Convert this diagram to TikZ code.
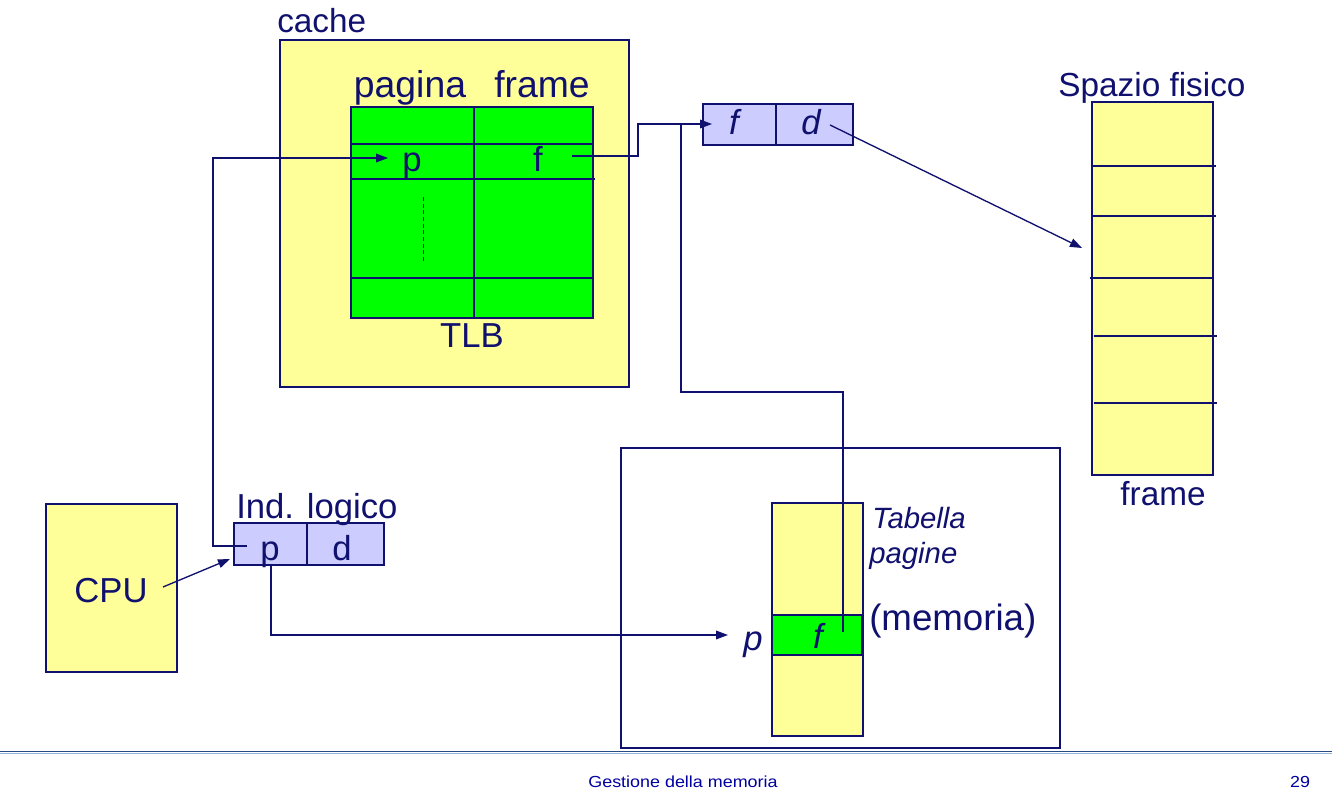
\documentclass[tikz,border=0pt]{standalone}
\usepackage{fontspec}
\setmainfont{Liberation Sans}
\usetikzlibrary{arrows.meta}
\definecolor{navy}{RGB}{16,16,110}
\definecolor{ylw}{RGB}{255,255,153}
\definecolor{lav}{RGB}{204,204,255}
\definecolor{grn}{RGB}{0,255,0}
\definecolor{rule}{RGB}{40,75,130}
\definecolor{rulelt}{RGB}{150,180,215}
\definecolor{footc}{RGB}{0,0,160}
\begin{document}
\begin{tikzpicture}[x=0.75pt,y=-0.75pt]
\tikzset{
  box/.style={draw=navy, line width=1pt, inner sep=0pt, outer sep=0pt},
  ln/.style={draw=navy, line width=1pt},
  arr/.style={ln, -{Triangle[length=9pt,width=6.5pt]}},
  lbl/.style={text=navy, inner sep=0pt, anchor=base, font=\fontsize{26}{28}\selectfont},
  ilbl/.style={lbl, font=\fontsize{26}{28}\selectfont\itshape},
}
\useasboundingbox (0,0) rectangle (1332,791);
% cache
\node[box, fill=ylw, minimum width=349*0.75pt, minimum height=347*0.75pt] (cache) at (454.5,213.5) {};
\node[lbl, font=\fontsize{25}{27}\selectfont, anchor=base west] (cachel) at (277,33) {cache};
% TLB
\node[box, fill=grn, minimum width=242*0.75pt, minimum height=211*0.75pt] (tlb) at (472,212.5) {};
\draw[ln] (474,107) -- (474,318);
\draw[ln] (351,144) -- (593,144);
\draw[ln] (351,179) -- (595,179);
\draw[ln] (351,278) -- (593,278);
\draw[navy, line width=0.7pt, dash pattern=on 3pt off 2pt] (423,197) -- (423,262);
\node[lbl, font=\fontsize{28}{30}\selectfont] (pag) at (410,98) {pagina};
\node[lbl, font=\fontsize{28}{30}\selectfont] (frm) at (542,98) {frame};
\node[lbl] (tp) at (412,172) {p};
\node[lbl] (tf) at (538,172) {f};
\node[lbl] (tlbl) at (472,348) {TLB};
% f d box
\node[box, fill=lav, minimum width=150*0.75pt, minimum height=41*0.75pt] (fd) at (778,124.5) {};
\draw[ln] (776,104) -- (776,145);
\node[ilbl] (ff) at (734,135) {f};
\node[ilbl] (fdd) at (811,135) {d};
% Spazio fisico
\node[box, fill=ylw, minimum width=121*0.75pt, minimum height=373*0.75pt] (sp) at (1152.5,288.5) {};
\foreach \yy/\xa/\xb in {166/1093/1216, 216/1093/1216, 278/1090/1212, 336/1094/1217, 403/1094/1217}
  \draw[ln] (\xa,\yy) -- (\xb,\yy);
\node[lbl, font=\fontsize{25}{27}\selectfont] (spl) at (1152,97) {Spazio fisico};
\node[lbl, font=\fontsize{25}{27}\selectfont] (spf) at (1163,505) {frame};
% CPU
\node[box, fill=ylw, minimum width=131*0.75pt, minimum height=168*0.75pt] (cpu) at (111.5,588) {};
\node[lbl] (cpul) at (111,602) {CPU};
% Ind logico
\node[box, fill=lav, minimum width=150*0.75pt, minimum height=42*0.75pt] (ind) at (309,544) {};
\draw[ln] (307,523) -- (307,565);
\node[lbl, anchor=base west] (indl) at (236,518) {Ind. logico};
\node[lbl] (ip) at (270,560) {p};
\node[lbl] (id) at (342,560) {d};
% memory
\node[box, fill=white, minimum width=439*0.75pt, minimum height=300*0.75pt] (mem) at (840.5,598) {};
\node[box, fill=ylw, minimum width=91*0.75pt, minimum height=233*0.75pt] (pt) at (817.5,619.5) {};
\node[box, fill=grn, minimum width=90*0.75pt, minimum height=40*0.75pt] (ptf) at (817,635) {};
\node[ilbl] (ptfl) at (818,648) {f};
\node[ilbl] (ptp) at (753,650) {p};
\node[ilbl, font=\fontsize{22}{24}\selectfont\itshape, anchor=base west] (tab) at (872,528) {Tabella};
\node[ilbl, font=\fontsize{22}{24}\selectfont\itshape, anchor=base west] (pagine) at (869,563) {pagine};
\node[lbl, font=\fontsize{27.5}{29}\selectfont, anchor=base west] (memo) at (869,630) {(memoria)};
% connectors
\coordinate (a0) at (247,546);
\coordinate (a1) at (388,158);
\draw[arr] (a0) -- (213,546) -- (213,158) -- (a1);
\coordinate (b0) at (572,156);
\coordinate (b1) at (712,124);
\draw[arr] (b0) -- (638,156) -- (638,124) -- (b1);
\coordinate (c0) at (843,632);
\draw[ln] (c0) -- (843,392) -- (681,392) -- (681,124) -- (700,124);
\coordinate (d0) at (830,125);
\coordinate (d1) at (1082,248);
\draw[arr] (d0) -- (d1);
\coordinate (e0) at (163,587);
\coordinate (e1) at (230,559);
\draw[arr] (e0) -- (e1);
\coordinate (g0) at (271,565);
\coordinate (g1) at (728,635);
\draw[arr] (g0) -- (271,635) -- (g1);
% footer
\draw[rulelt, line width=1.2pt] (0,753.5) -- (1332,753.5);
\draw[rule, line width=1.2pt] (0,751.5) -- (1332,751.5);
\node[text=footc, inner sep=0pt, anchor=base, font=\fontsize{12}{14}\selectfont] (foot) at (683,787) {\scalebox{1.12}[1]{Gestione della memoria}};
\node[text=footc, inner sep=0pt, anchor=base, font=\fontsize{12}{14}\selectfont] (pnum) at (1300,787) {\scalebox{1.12}[1]{29}};
\end{tikzpicture}
\end{document}
